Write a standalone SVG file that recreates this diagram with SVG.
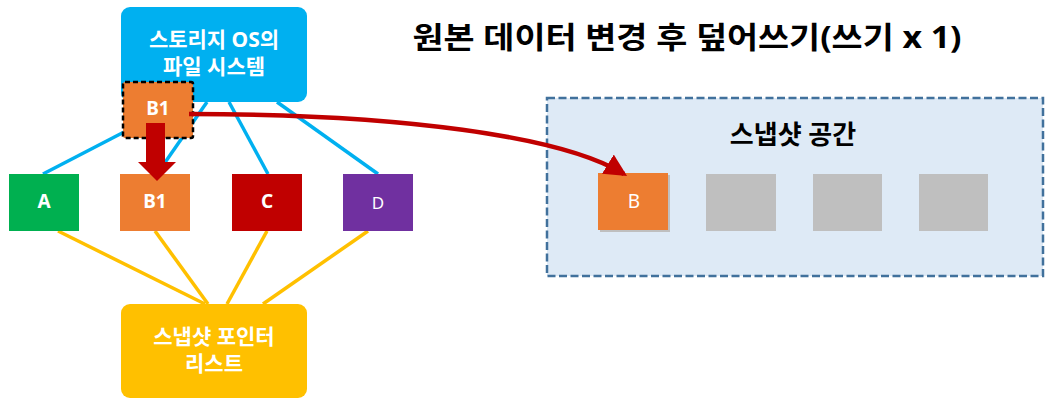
<svg xmlns="http://www.w3.org/2000/svg" width="1054" height="408" viewBox="0 0 1054 408">
<style>
.t{font-family:"Noto Sans","Noto Sans CJK KR",sans-serif;text-anchor:middle}
.w{fill:#ffffff}
.b{font-weight:bold}
.blue{stroke:#00B0F0;stroke-width:3.5;fill:none}
.yel{stroke:#FFC000;stroke-width:3.5;fill:none}
.gray{fill:#BFBFBF}
</style>
<defs>
<marker id="ah" markerWidth="5" markerHeight="5" refX="4.2" refY="2.5" orient="auto" markerUnits="strokeWidth">
<path d="M0,0 L5,2.5 L0,5 Z" fill="#C00000"/>
</marker>
</defs>
<rect width="1054" height="408" fill="#ffffff"/>

<g id="title">
<text class="t b" x="687" y="48" font-size="30" textLength="549" lengthAdjust="spacingAndGlyphs" fill="#000">원본 데이터 변경 후 덮어쓰기(쓰기 x 1)</text>
</g>

<g id="snapshot-area">
<rect x="547" y="98" width="496" height="178" fill="#DEEAF6" stroke="#41719C" stroke-width="2.5" stroke-dasharray="8,3.5"/>
<text class="t b" x="793" y="144" font-size="26" fill="#000">스냅샷 공간</text>
</g>

<g id="connectors">
<line class="blue" x1="43" y1="174" x2="182" y2="102"/>
<line class="blue" x1="157" y1="174" x2="207" y2="102"/>
<line class="blue" x1="268" y1="174" x2="229" y2="102"/>
<line class="blue" x1="378" y1="174" x2="277" y2="102"/>
<line class="yel" x1="58" y1="231" x2="205" y2="304"/>
<line class="yel" x1="155" y1="231" x2="208" y2="304"/>
<line class="yel" x1="267" y1="231" x2="227" y2="304"/>
<line class="yel" x1="368" y1="231" x2="263" y2="304"/>
</g>

<g id="fs">
<rect x="121" y="7" width="186" height="95" rx="9" fill="#00B0F0"/>
<text class="t w b" x="214" y="47" font-size="21">스토리지 OS의</text>
<text class="t w b" x="214" y="74" font-size="21">파일 시스템</text>
</g>

<g id="ptr">
<rect x="121" y="304" width="186" height="94" rx="9" fill="#FFC000"/>
<text class="t w b" x="214" y="344" font-size="21">스냅샷 포인터</text>
<text class="t w b" x="214" y="371" font-size="21">리스트</text>
</g>

<g id="node-a">
<rect x="9" y="174" width="70" height="57" fill="#00B050"/>
<text class="t w b" x="44" y="208" font-size="19">A</text>
</g>
<g id="node-b1">
<rect x="120" y="174" width="70" height="57" fill="#ED7D31"/>
<text class="t w b" x="155" y="208" font-size="19">B1</text>
</g>
<g id="node-c">
<rect x="232" y="174" width="70" height="57" fill="#C00000"/>
<text class="t w b" x="267" y="208" font-size="19">C</text>
</g>
<g id="node-d">
<rect x="343" y="174" width="70" height="57" fill="#7030A0"/>
<text class="t w" x="378" y="209" font-size="17">D</text>
</g>

<g id="snap-blocks">
<rect class="gray" x="600" y="175" width="70" height="57"/>
<rect x="598" y="173" width="70" height="57" fill="#ED7D31"/>
<text class="t w" x="634" y="208" font-size="19">B</text>
<rect class="gray" x="706" y="174" width="70" height="57"/>
<rect class="gray" x="813" y="174" width="69" height="57"/>
<rect class="gray" x="919" y="174" width="69" height="57"/>
</g>

<g id="b1-new">
<rect x="123" y="82" width="70" height="56" rx="2" fill="#ED7D31" stroke="#000" stroke-width="2.5" stroke-dasharray="5,3"/>
<text class="t w b" x="158" y="115" font-size="19">B1</text>
</g>

<g id="arrows">
<path d="M146,123 H165 V162 H176 L157,181 L138,162 H146 Z" fill="#C00000"/>
<path d="M189,114 C400,114 562,136 624,174" fill="none" stroke="#C00000" stroke-width="4.5" marker-end="url(#ah)"/>
</g>
</svg>
